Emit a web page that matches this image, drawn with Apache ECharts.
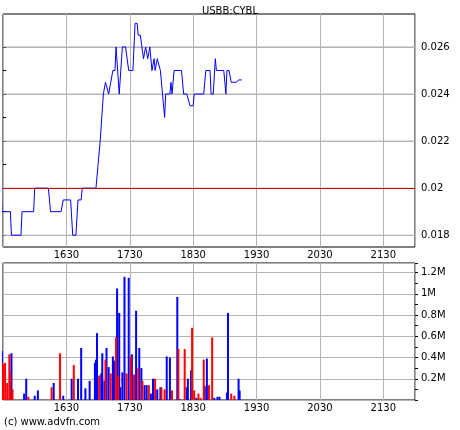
<!DOCTYPE html>
<html><head><meta charset="utf-8">
<script src="https://cdn.jsdelivr.net/npm/echarts@6/dist/echarts.min.js"></script>
<style>html,body{margin:0;background:#fff}#c{width:460px;height:430px}</style>
</head><body><div id="c"></div>
<script>
// minutes since midnight
const priceTimes = [928,929,937,938,940,947,948,959,960,973,975,985,987,994,996,999,1001,1004,1005,1018,1020,1022,1023,1025,1027,1030,1032,1034,1036,1037,1038,1040,1043,1046,1049,1053,1055,1057,1058,1060,1063,1065,1067,1069,1071,1073,1074,1076,1077,1079,1081,1083,1084,1088,1089,1090,1092,1099,1101,1104,1105,1107,1110,1111,1120,1122,1126,1127,1129,1131,1132,1139,1141,1142,1144,1146,1151,1153,1156];
const prices = [0.0205,0.019,0.019,0.018,0.018,0.018,0.019,0.019,0.02,0.02,0.019,0.019,0.0195,0.0195,0.018,0.018,0.0195,0.0195,0.02,0.02,0.021,0.022,0.022,0.024,0.0245,0.024,0.0245,0.025,0.025,0.026,0.026,0.024,0.026,0.026,0.025,0.025,0.027,0.027,0.0265,0.0265,0.0255,0.026,0.0255,0.026,0.025,0.0255,0.025,0.0255,0.0255,0.025,0.024,0.023,0.024,0.024,0.0245,0.024,0.025,0.025,0.024,0.024,0.024,0.0235,0.0235,0.024,0.024,0.025,0.025,0.024,0.024,0.0255,0.025,0.025,0.024,0.025,0.025,0.0245,0.0245,0.0246,0.0246];
const prevClose = 0.021;
const priceTicks = [0.018, 0.02, 0.022, 0.024, 0.026];

const volBlueTimes = [929,938,950,952,960,963,978,987,995,1001,1004,1008,1012,1017,1018,1019,1023,1024,1026,1028,1030,1034,1035,1038,1040,1041,1043,1045,1049,1052,1056,1059,1061,1064,1066,1070,1072,1076,1079,1085,1088,1095,1097,1104,1105,1108,1113,1121,1123,1130,1133,1135,1142,1143,1153,1154];
const volBlue = [0.46,0.44,0.06,0.2,0.04,0.09,0.16,0.04,0.2,0.2,0.49,0.11,0.18,0.35,0.38,0.63,0.25,0.44,0.18,0.49,0.31,0.41,0.37,1.05,0.82,0.12,0.26,1.16,1.15,0.43,0.84,0.49,0.3,0.14,0.14,0.06,0.2,0.1,0.12,0.41,0.4,0.97,0.01,0.12,0.2,0.28,0.02,0.13,0.39,0.02,0.03,0.03,0.07,0.82,0.2,0.09];
const volRedTimes = [930,932,934,936,937,939,954,976,984,997,1021,1027,1032,1037,1039,1047,1051,1054,1058,1062,1068,1074,1080,1083,1090,1096,1102,1109,1111,1115,1117,1120,1125,1128,1146,1149];
const volRed = [0.34,0.35,0.16,0.43,0.25,0.1,0.03,0.12,0.44,0.33,0.23,0.38,0.25,0.59,0.23,0.25,0.41,0.24,0.3,0.18,0.14,0.2,0.12,0.1,0.09,0.48,0.48,0.68,0.09,0.06,0.02,0.38,0.14,0.59,0.06,0.04];
const xTicks = [990,1050,1110,1170,1230,1290]; // 1630 .. 2130

const pair = (t, v) => t.map((x, i) => [x, v[i]]);
const hhmm = m => String(Math.floor(m / 60)) + String(m % 60).padStart(2, '0');
const gridColor = '#b4b4b4';
const gridLine = () => ({ show: true, lineStyle: { color: gridColor, width: 1, type: 'solid' } });
const font = () => ({ fontFamily: 'DejaVu Sans', fontSize: 10, color: '#000' });
const tick = () => ({ show: true, length: 3, lineStyle: { color: '#000' } });
const minor = () => ({ show: true, splitNumber: 2, length: 3, lineStyle: { color: '#000' } });

function xAxis(idx) {
  return {
    type: 'value', gridIndex: idx, min: 930, max: 1320, interval: 60,
    axisLine: { show: false }, axisTick: { show: false },
    splitLine: gridLine(),
    axisLabel: Object.assign({ showMinLabel: false, showMaxLabel: false, margin: 3,
      formatter: v => xTicks.includes(v) ? hhmm(v) : '' }, font())
  };
}

// horizontal price grid lines drawn as flat line series through the axes
const priceGridSeries = priceTicks.map(v => ({
  type: 'line', xAxisIndex: 0, yAxisIndex: 0, data: [[930, v], [1320, v]], silent: true, z: 1,
  showSymbol: false, lineStyle: { color: gridColor, width: 1 }
}));

const chart = echarts.init(document.getElementById('c'));
chart.setOption({
  animation: false,
  backgroundColor: '#fff',
  title: { text: 'USBB:CYBL', left: 'center', top: 1, textStyle: Object.assign(font(), { fontWeight: 'normal' }) },
  graphic: [{ type: 'text', left: 4, top: 417, style: { text: '(c) www.advfn.com', font: '10px DejaVu Sans', fill: '#000' } }],
  grid: [
    { left: 3, right: 45, top: 14, height: 233, show: true, borderColor: '#000', borderWidth: 1 },
    { left: 3, right: 45, top: 263, height: 137, show: true, borderColor: '#000', borderWidth: 1 },
    // overlay spanning 0.018..0.026 (in thousandths) of the price panel, for its ticks and lines
    { left: 3, right: 45, top: 47, height: 188 }
  ],
  xAxis: [xAxis(0), xAxis(1),
    { type: 'value', gridIndex: 2, min: 0, max: 1, interval: 1, show: false }],
  yAxis: [
    { type: 'value', gridIndex: 0, position: 'right', min: 0.0175, max: 0.0274, interval: 0.0005,
      axisLine: { show: false }, axisTick: { show: false }, splitLine: { show: false },
      axisLabel: Object.assign({ margin: 6, showMinLabel: false, showMaxLabel: false,
        formatter: v => priceTicks.some(t => Math.abs(t - v) < 1e-7) ? String(+v.toFixed(3)) : '' }, font()) },
    { type: 'value', gridIndex: 1, position: 'right', min: 0, max: 1.29, interval: 0.2,
      axisLine: { show: false }, axisTick: tick(), minorTick: minor(), splitLine: gridLine(),
      axisLabel: Object.assign({ margin: 6, showMaxLabel: false,
        formatter: v => v === 0 || v > 1.25 ? '' : (+v.toFixed(1)) + 'M' }, font()) },
    { type: 'value', gridIndex: 2, position: 'right', min: 18, max: 26, interval: 2,
      axisLine: { show: false }, axisTick: tick(), axisLabel: { show: false },
      minorTick: minor(), splitLine: gridLine() }
  ],
  series: priceGridSeries.concat([
    { type: 'line', xAxisIndex: 2, yAxisIndex: 2, data: [[0, 18], [1, 26]], silent: true,
      showSymbol: false, lineStyle: { width: 0, opacity: 0 } },
    { type: 'line', xAxisIndex: 0, yAxisIndex: 0, data: pair(priceTimes, prices), showSymbol: false, z: 3,
      lineStyle: { color: '#0000ff', width: 1 },
      markLine: { silent: true, symbol: ['none', 'none'], label: { show: false },
        lineStyle: { color: '#cc0000', type: 'solid', width: 1 }, data: [{ yAxis: prevClose }] } },
    { type: 'bar', xAxisIndex: 1, yAxisIndex: 1, data: pair(volBlueTimes, volBlue), barWidth: 2, itemStyle: { color: '#0000ff' } },
    { type: 'bar', xAxisIndex: 1, yAxisIndex: 1, data: pair(volRedTimes, volRed), barWidth: 2, barGap: '-100%', itemStyle: { color: '#ff0000' } }
  ])
});
</script></body></html>
